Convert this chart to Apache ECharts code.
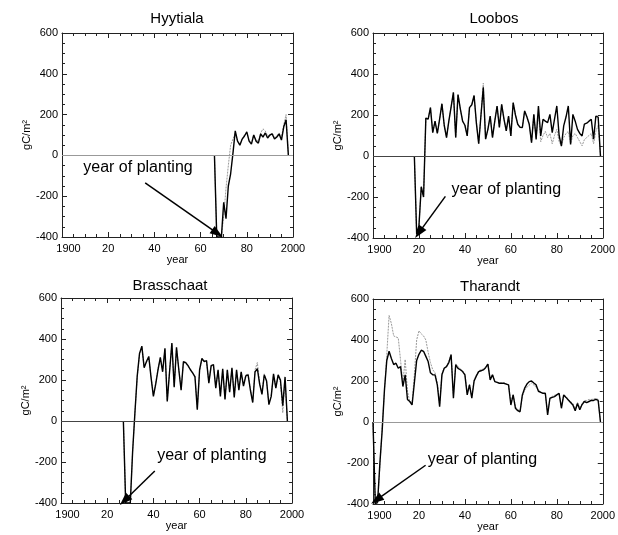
<!DOCTYPE html>
<html><head><meta charset="utf-8">
<script src="https://cdn.jsdelivr.net/npm/echarts@6/dist/echarts.min.js"></script>
<style>html,body{margin:0;padding:0;background:#fff}#c{width:618px;height:535px}</style>
</head><body><div id="c"></div>
<script>
// ---- tick labels ----
const xTickLabels = ['1900', '20', '40', '60', '80', '2000'];
const yTickValues = [-400, -200, 0, 200, 400, 600];

// ---- data (gC/m2 per year) ----
const hyyStart = 1966;
const hyyBlack = [0, -400, -400, -400, -230, -310, -150, -90, 10, 120, 70, 50, 80, 95, 115, 70, 55, 100, 70, 60, 105, 90, 110, 85, 100, 105, 80, 90, 105, 75, 140, 175, 0];
const hyyGray  = [0, -400, -400, -400, -300, -160, -50, 50, 80, 110, 70, 55, 80, 100, 110, 75, 60, 100, 75, 70, 110, 130, 120, 95, 100, 110, 85, 95, 110, 90, 150, 200, 0];

const looStart = 1918;
const looBlack = [0, -380, -340, -150, -200, 185, 180, 236, 114, 170, 110, 180, 255, 150, 90, 170, 240, 310, 90, 300, 230, 170, 150, 98, 236, 250, 295, 160, 60, 200, 335, 82, 130, 195, 90, 170, 244, 139, 252, 180, 122, 195, 98, 260, 200, 155, 140, 139, 220, 190, 155, 65, 203, 82, 244, 98, 179, 170, 163, 203, 114, 180, 244, 100, 48, 147, 190, 244, 56, 203, 170, 130, 110, 98, 155, 160, 170, 179, 82, 195, 190, 0];
const looGray  = [0, -380, -340, -150, -200, 185, 180, 236, 114, 170, 110, 180, 255, 150, 90, 170, 240, 310, 90, 300, 230, 170, 150, 98, 236, 250, 295, 160, 60, 200, 355, 82, 130, 195, 90, 170, 244, 139, 252, 180, 122, 195, 98, 260, 200, 155, 140, 139, 220, 190, 155, 65, 203, 80, 200, 70, 100, 120, 90, 110, 60, 100, 130, 70, 50, 90, 110, 120, 60, 100, 110, 90, 70, 50, 80, 90, 100, 110, 60, 120, 150, 0];

const braStart = 1927;
const braBlack = [0, -400, -400, -400, -150, 40, 220, 330, 365, 260, 290, 315, 210, 120, 180, 250, 310, 240, 355, 95, 240, 380, 165, 360, 250, 150, 290, 285, 270, 250, 235, 215, 55, 250, 305, 290, 295, 185, 270, 275, 160, 250, 120, 255, 105, 250, 140, 260, 115, 250, 150, 240, 170, 220, 225, 150, 90, 240, 255, 180, 130, 225, 195, 80, 120, 230, 160, 225, 200, 75, 215, 0];
const braGray  = [0, -400, -400, -400, -150, 40, 215, 325, 360, 265, 285, 310, 215, 125, 185, 255, 305, 245, 350, 100, 245, 375, 170, 355, 255, 155, 285, 280, 265, 255, 230, 220, 60, 245, 300, 295, 290, 190, 265, 270, 165, 245, 125, 250, 110, 245, 145, 255, 120, 245, 155, 235, 175, 225, 230, 155, 95, 250, 285, 185, 135, 230, 190, 85, 125, 225, 165, 220, 190, 40, 200, 0];

const thaStart = 1900;
const thaBlack = [0, -400, -390, -200, -40, 160, 300, 345, 310, 280, 287, 262, 270, 173, 230, 110, 100, 83, 190, 300, 330, 350, 345, 320, 295, 240, 230, 230, 180, 75, 230, 262, 270, 290, 328, 116, 279, 262, 255, 246, 230, 132, 181, 116, 200, 225, 246, 250, 254, 265, 282, 205, 230, 197, 193, 189, 189, 189, 185, 181, 83, 132, 67, 55, 50, 132, 165, 185, 197, 200, 190, 181, 150, 145, 140, 140, 34, 116, 120, 124, 132, 140, 67, 132, 120, 107, 95, 83, 55, 90, 60, 85, 100, 95, 100, 105, 105, 110, 105, 0];
const thaGray  = [0, -400, -400, -220, -20, 150, 330, 520, 480, 420, 415, 410, 300, 190, 305, 150, 100, 95, 230, 400, 445, 430, 420, 400, 340, 290, 255, 240, 190, 85, 235, 265, 275, 295, 330, 130, 285, 270, 260, 250, 235, 140, 185, 120, 205, 230, 250, 255, 258, 268, 285, 210, 232, 200, 195, 190, 190, 190, 186, 180, 95, 135, 75, 60, 55, 125, 155, 170, 180, 190, 180, 170, 155, 148, 140, 135, 45, 115, 125, 130, 135, 135, 75, 130, 125, 110, 100, 90, 65, 95, 70, 90, 105, 105, 110, 110, 112, 115, 110, 0];

const siteNames = ['Hyytiala', 'Loobos', 'Brasschaat', 'Tharandt'];
const noteText = 'year of planting';

// ---- layout ----
const FF = '"Liberation Sans", Arial, Helvetica, sans-serif';
const panels = [
  {name: siteNames[0], start: hyyStart, black: hyyBlack, gray: hyyGray,
   grid: {left: 62, top: 33, width: 231, height: 204}, tx: 177, ty: 11, zero: '#999',
   text: [1909, -62], arrow: [[1936, -135], [1967.3, -382]]},
  {name: siteNames[1], start: looStart, black: looBlack, gray: looGray,
   grid: {left: 373, top: 33, width: 231, height: 205}, tx: 494, ty: 11, zero: '#444',
   text: [1934, -166], arrow: [[1931.5, -197], [1920, -374]]},
  {name: siteNames[2], start: braStart, black: braBlack, gray: braGray,
   grid: {left: 61, top: 298, width: 231, height: 205}, tx: 170, ty: 278, zero: '#444',
   text: [1941.4, -168], arrow: [[1940.6, -244], [1927.5, -388]]},
  {name: siteNames[3], start: thaStart, black: thaBlack, gray: thaGray,
   grid: {left: 373, top: 299, width: 230, height: 205}, tx: 490, ty: 279, zero: '#999',
   text: [1923.6, -181], arrow: [[1922.9, -211], [1901.5, -380]]}
];

const toPairs = (start, vals) => vals.map((v, i) => [start + i, v]);
const lineCol = {color: '#222', width: 1};

function xAx(i, pos) {
  return {
    gridIndex: i, type: 'value', position: pos, min: 1900, max: 2000, interval: 20,
    axisLine: {show: true, onZero: false, lineStyle: lineCol},
    axisTick: {show: true, inside: true, length: 5, lineStyle: lineCol},
    minorTick: {show: true, splitNumber: 4, length: 3, lineStyle: lineCol},
    splitLine: {show: false}, minorSplitLine: {show: false},
    axisLabel: {show: pos === 'bottom', showMinLabel: true, showMaxLabel: true,
      formatter: v => {
        const k = Math.round((v - 1900) / 20);
        return k === 0 ? '{f|' + xTickLabels[k] + '}' : xTickLabels[k];
      },
      rich: {f: {fontSize: 11, color: '#000', fontFamily: FF, padding: [0, 0, 0, 13]}},
      fontSize: 11, color: '#000', margin: 6, fontFamily: FF},
    name: pos === 'bottom' ? 'year' : '', nameLocation: 'middle', nameGap: 17,
    nameTextStyle: {fontSize: 11, color: '#000', fontFamily: FF}
  };
}
function yAx(i, pos) {
  return {
    gridIndex: i, type: 'value', position: pos,
    min: yTickValues[0], max: yTickValues[yTickValues.length - 1], interval: 200,
    axisLine: {show: true, onZero: false, lineStyle: lineCol},
    axisTick: {show: true, inside: true, length: 5, lineStyle: lineCol},
    minorTick: {show: true, splitNumber: 4, length: 3, lineStyle: lineCol},
    splitLine: {show: false}, minorSplitLine: {show: false},
    axisLabel: {show: pos === 'left', fontSize: 11, color: '#000', margin: 4, fontFamily: FF},
    name: pos === 'left' ? 'gC/m²' : '', nameLocation: 'middle', nameGap: 30, nameRotate: 90,
    nameTextStyle: {fontSize: 11, color: '#000', fontFamily: FF}
  };
}

const grids = [], xAxes = [], yAxes = [], series = [], graphics = [];
panels.forEach((p, i) => {
  grids.push(Object.assign({containLabel: false}, p.grid));
  xAxes.push(xAx(i, 'bottom'), xAx(i, 'top'));
  yAxes.push(yAx(i, 'left'), yAx(i, 'right'));
  series.push({
    type: 'line', xAxisIndex: 2 * i, yAxisIndex: 2 * i, data: toPairs(p.start, p.gray),
    symbol: 'none', showSymbol: false, silent: true, z: 2,
    lineStyle: {color: '#999', width: 1, type: [2, 1]},
    markLine: {silent: true, symbol: 'none', animation: false, label: {show: false},
      lineStyle: {color: p.zero, width: 1, type: 'solid'}, data: [{yAxis: 0}]}
  });
  series.push({
    type: 'line', xAxisIndex: 2 * i, yAxisIndex: 2 * i, data: toPairs(p.start, p.black),
    symbol: 'none', showSymbol: false, silent: true, z: 3,
    lineStyle: {color: '#000', width: 1.4},
    markLine: {silent: true, animation: false, symbol: ['none', 'triangle'], symbolSize: [9, 13],
      label: {show: false}, lineStyle: {color: '#000', width: 1.5, type: 'solid'},
      data: [[{coord: p.arrow[0]}, {coord: p.arrow[1]}]]},
    markPoint: {silent: true, animation: false, symbol: 'rect', symbolSize: 1,
      itemStyle: {color: 'rgba(0,0,0,0)'},
      label: {show: true, position: 'right', distance: 0, formatter: noteText,
        fontSize: 16, color: '#000', fontFamily: FF},
      data: [{coord: p.text}]}
  });
  graphics.push({type: 'text', x: p.tx, y: p.ty, silent: true,
    style: {text: p.name, fontSize: 15, fill: '#000', fontFamily: FF,
      align: 'center', verticalAlign: 'top', textAlign: 'center', textVerticalAlign: 'top'}});
});

const chart = echarts.init(document.getElementById('c'), null, {renderer: 'canvas'});
chart.setOption({
  animation: false, backgroundColor: '#fff',
  grid: grids, xAxis: xAxes, yAxis: yAxes, series: series, graphic: graphics
});
</script></body></html>
